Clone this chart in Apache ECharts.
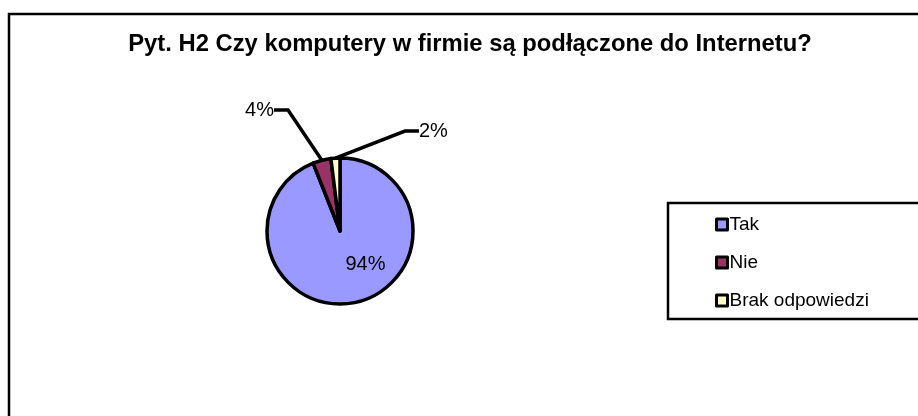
<!DOCTYPE html>
<html>
<head>
<meta charset="utf-8">
<script src="https://cdn.jsdelivr.net/npm/echarts@6/dist/echarts.min.js"></script>
<style>
  html, body { margin: 0; padding: 0; background: #fff; }
  #c1 { width: 918px; height: 416px; }
</style>
</head>
<body>
<div id="c1"></div>
<script>
var categories = ['Tak', 'Nie', 'Brak odpowiedzi']
var values = [94, 4, 2]
var colors = ['#9999FF', '#993366', '#FFFFCC']

var pieData = []
for (var i = 0; i < categories.length; i++) {
    var item = {
        name: categories[i],
        value: values[i],
        itemStyle: { color: colors[i] }
    }
    if (i == 0) {
        // duży wycinek - etykieta w środku
        item.label = { position: 'inside', offset: [18, -5] }
        item.labelLine = { show: false }
    }
    pieData.push(item)
}

// miejsca etykiet małych wycinków (jak w Excelu)
function placeLabels(p) {
    if (p.dataIndex == 1) return { x: 274, y: 110, align: 'right', verticalAlign: 'middle' }
    if (p.dataIndex == 2) return { x: 419, y: 131, align: 'left', verticalAlign: 'middle' }
}

var myChart = echarts.init(document.getElementById('c1'))
myChart.setOption({
    backgroundColor: '#fff',
    animation: false,
    title: {
        text: 'Pyt. H2 Czy komputery w firmie są podłączone do Internetu?',
        left: 465,
        top: 27,
        textAlign: 'center',
        textStyle: {
            fontFamily: 'Liberation Sans',
            fontWeight: 'bold',
            fontSize: 23.8,
            color: '#000'
        }
    },
    graphic: [{
        type: 'rect',
        shape: { x: 9, y: 14, width: 940, height: 430 },
        style: { fill: 'none', stroke: '#000', lineWidth: 2.5 },
        silent: true
    }],
    legend: {
        orient: 'vertical',
        left: 668,
        top: 203,
        padding: [12, 300, 9, 47],
        itemGap: 19,
        itemWidth: 11,
        itemHeight: 11,
        icon: 'rect',
        borderColor: '#000',
        borderWidth: 2.5,
        itemStyle: { borderColor: '#000', borderWidth: 3 },
        textStyle: {
            fontFamily: 'Liberation Sans',
            fontSize: 19,
            color: '#000',
            padding: [0, 0, 0, -3]
        },
        data: categories
    },
    series: [{
        type: 'pie',
        center: [340, 231],
        radius: 73,
        startAngle: 90,
        clockwise: true,
        avoidLabelOverlap: false,
        itemStyle: { borderColor: '#000', borderWidth: 3.5 },
        label: {
            show: true,
            formatter: '{c}%',
            fontFamily: 'Liberation Sans',
            fontSize: 20,
            color: '#000'
        },
        labelLine: {
            show: true,
            length: 30,
            length2: 14,
            lineStyle: { color: '#000', width: 3.5 }
        },
        labelLayout: placeLabels,
        emphasis: { disabled: true },
        data: pieData
    }]
})
</script>
</body>
</html>
